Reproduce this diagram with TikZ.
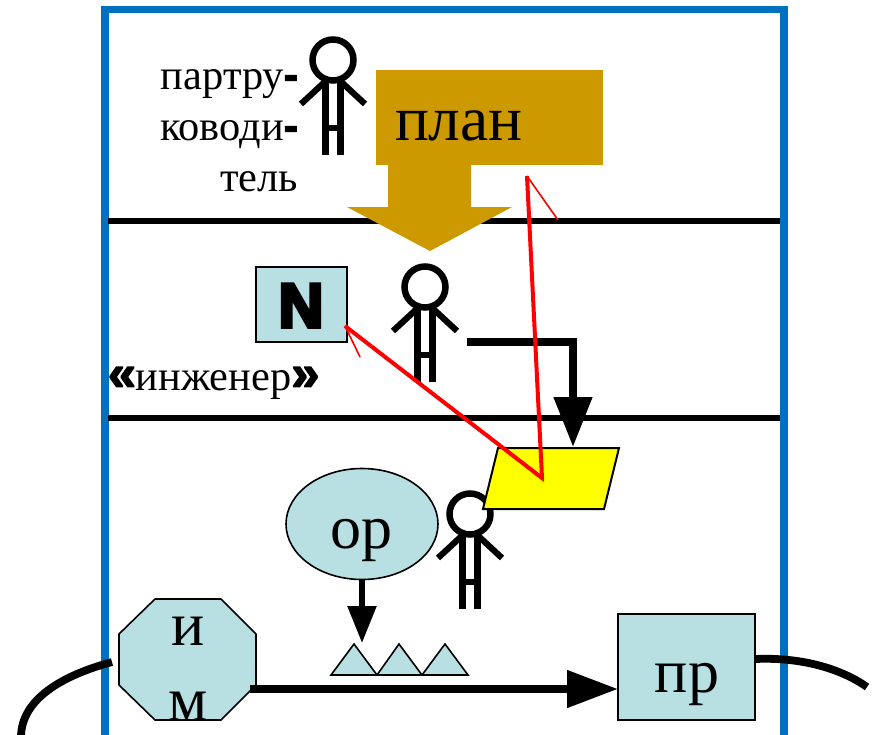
\documentclass[tikz,border=0pt]{standalone}
\usepackage{fontspec}
\setmainfont{Liberation Serif}
\newfontfamily\heavysans[FakeBold=3]{Liberation Sans Bold}
\newfontfamily\heaviest[FakeBold=6]{Liberation Sans Bold}
\usetikzlibrary{arrows.meta,shapes.geometric}
\definecolor{framebl}{HTML}{0070C0}
\definecolor{goldc}{HTML}{CC9900}
\definecolor{paleb}{HTML}{B8DFE2}
\definecolor{docyellow}{HTML}{FFFF00}
\definecolor{purered}{HTML}{FF0000}
\newcommand{\fs}[1]{\fontsize{#1}{#1}\selectfont}
\tikzset{
  x=1pt,y=-1pt,
  framepath/.style={draw=framebl,line width=7.5pt,miter limit=10},
  divider/.style={draw=black,line width=5.5pt},
  flow/.style={draw=black,line width=7.8pt},
  redthick/.style={draw=purered,line width=4pt,line join=miter},
  redthin/.style={draw=purered,line width=1.6pt},
  palebox/.style={draw=black,line width=1.6pt,fill=paleb},
  lbl/.style={inner sep=0pt,outer sep=0pt,font=\fs{42.4}},
  big/.style={inner sep=0pt,outer sep=0pt,font=\fs{62}},
  person/.pic={
    \draw[black,line width=6.5pt] (0,0) circle[radius=20.5];
    \draw[black,line width=6.2pt] (-7.5,20) -- (-7.5,95) (7.5,20) -- (7.5,95) (-7.5,68) -- (7.5,68);
    \draw[black,line width=6.2pt] (-4,18) -- (-32,44) (4,18) -- (32,44);
  }
}
\begin{document}
\begin{tikzpicture}
\useasboundingbox (0,0) rectangle (872,734);
\clip (0,0) rectangle (872,734);
\fill[white] (0,0) rectangle (872,734);
% frame
\draw[framepath] (105,740) -- (105,9.5) -- (784,9.5) -- (784,740);
% dividers
\coordinate (d1a) at (108,221); \coordinate (d1b) at (780,221);
\coordinate (d2a) at (108,418); \coordinate (d2b) at (780,418);
\draw[divider] (d1a) -- (d1b);
\draw[divider] (d2a) -- (d2b);
% plan
\fill[goldc] (388,160) -- (471,160) -- (471,207) -- (512,207) -- (430,251) -- (347,207) -- (388,207) -- cycle;
\node[fill=goldc,minimum width=227pt,minimum height=95pt,inner sep=0pt,outer sep=0pt] (plan) at (489.5,117.5) {};
\node[big,anchor=base west,font=\fs{63.5}] (plantext) at (395,140) {план};
% people
\pic at (333,60) {person};
\pic at (425,287) {person};
\pic at (470,514) {person};
% labels
\node[lbl,anchor=base east] (l1) at (298,89) {партру{\heavysans-}};
\node[lbl,anchor=base east] (l2) at (298,140) {ководи{\heavysans-}};
\node[lbl,anchor=base east] (l3) at (298,191) {тель};
\node[lbl,anchor=base west] (l4) at (108,390) {{\heavysans\fs{50}«}инженер{\heavysans\fs{50}»}};
% N box
\node[palebox,minimum width=91pt,minimum height=75pt,inner sep=0pt,outer sep=0pt] (nbox) at (301.5,304.5) {};
\node[inner sep=0pt,anchor=base,font=\heaviest\fs{62}] (ntext) at (301,327) {N};
% yellow doc
\coordinate (y1) at (498,448); \coordinate (y2) at (619,448);
\coordinate (y3) at (604,509); \coordinate (y4) at (483,509);
\draw[fill=docyellow,draw=black,line width=2pt] (y1) -- (y2) -- (y3) -- (y4) -- cycle;
% engineer flow
\coordinate (fa) at (467,342); \coordinate (fb) at (573,342); \coordinate (fc) at (573,447);
\draw[flow,-{Triangle[length=50pt,width=37pt]}] (fa) -- (fb) -- (fc);
% operator
\node[draw=black,line width=1.6pt,fill=paleb,ellipse,minimum width=152pt,minimum height=111pt,inner sep=0pt,outer sep=0pt] (op) at (362,524) {};
\node[big,anchor=base] (optext) at (361,548) {ор};
\coordinate (opa) at (362,580); \coordinate (opb) at (362,643);
\draw[draw=black,line width=5.5pt,-{Triangle[length=37pt,width=28pt]}] (opa) -- (opb);
% triangles
\draw[palebox] (331,675) -- (354,644) -- (377,675) -- cycle;
\draw[palebox] (377,675) -- (399,644) -- (422,675) -- cycle;
\draw[palebox] (422,675) -- (445,644) -- (468,675) -- cycle;
% im octagon
\coordinate (octr) at (250,689);
\draw[palebox] (155,599) -- (221,599) -- (256,634) -- (256,685) -- (221,720) -- (155,720) -- (119,685) -- (119,634) -- cycle;
\node[big,anchor=base] (imi) at (188,645) {и};
\node[big,anchor=base] (imm) at (188,720) {м};
% pr
\node[palebox,minimum width=137pt,minimum height=106pt,inner sep=0pt,outer sep=0pt] (pr) at (686.5,667) {};
\node[big,anchor=base] (prtext) at (687,692) {пр};
\draw[flow,-{Triangle[length=51pt,width=36pt]}] (octr) -- (pr.west |- octr);
% outer curves
\coordinate (cl1) at (112,662); \coordinate (cl2) at (21,736);
\coordinate (cr1) at (755,659); \coordinate (cr2) at (867,687);
\draw[flow] (cl1) .. controls (60,676) and (22,700) .. (cl2);
\draw[flow] (cr1) .. controls (800,657) and (840,668) .. (cr2);
% red
\coordinate (r0) at (558,220); \coordinate (r1) at (527,176);
\coordinate (r2) at (542,478); \coordinate (r3) at (345,326); \coordinate (r4) at (360,357);
\draw[redthin] (r0) -- (r1);
\draw[redthin] (r3) -- (r4);
\draw[redthick] (r1) -- (r2) -- (r3);
\end{tikzpicture}
\end{document}
